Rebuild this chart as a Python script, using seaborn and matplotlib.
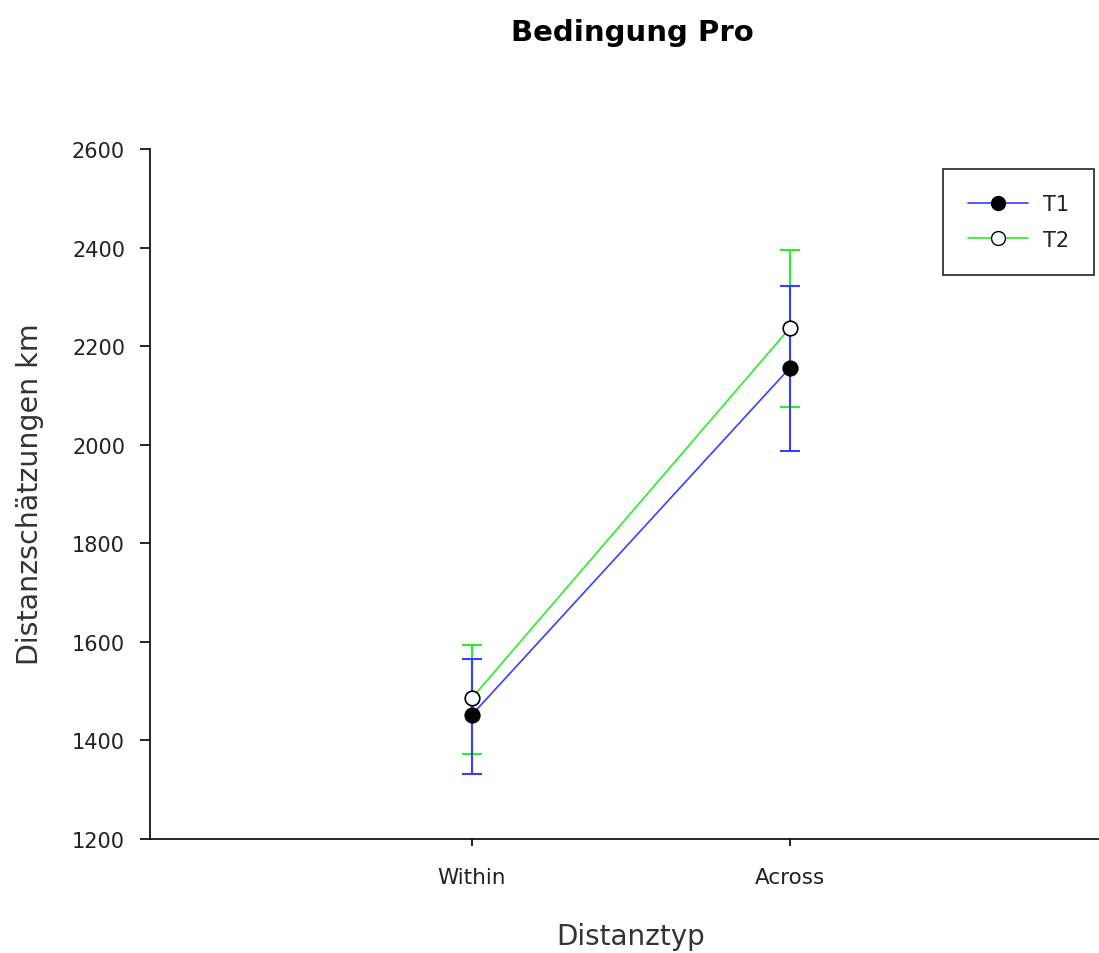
import numpy as np
import pandas as pd
import matplotlib
matplotlib.use("Agg")
import matplotlib.pyplot as plt
import seaborn as sns
from matplotlib.lines import Line2D

categories = ["Within", "Across"]
series = ["T1", "T2"]
t1_mean = [1452, 2156]
t1_upper = [1565, 2322]
t1_lower = [1332, 1987]
t2_mean = [1486, 2237]
t2_upper = [1594, 2395]
t2_lower = [1372, 2077]
yticks = [1200, 1400, 1600, 1800, 2000, 2200, 2400, 2600]

sns.set_theme(style="white")
plt.rcParams['font.family'] = ['DejaVu Sans']

df = pd.DataFrame({
    "Distanztyp": categories * 2,
    "value": t1_mean + t2_mean,
    "Zeit": ["T1"] * 2 + ["T2"] * 2,
})

colors = {"T1": "#3c3cff", "T2": "#2aee2a"}

fig = plt.figure(figsize=(10.99, 9.54), dpi=100)
ax = fig.add_axes([150/1099, (954-840)/954, 949/1099, 690/954])

sns.lineplot(data=df, x="Distanztyp", y="value", hue="Zeit", palette=colors,
             ax=ax, legend=False, linewidth=1.2, sort=False)

xpos = np.arange(len(categories))
for name, m, lo, hi in [("T2", t2_mean, t2_lower, t2_upper),
                        ("T1", t1_mean, t1_lower, t1_upper)]:
    m = np.array(m); lo = np.array(lo); hi = np.array(hi)
    ax.errorbar(xpos, m, yerr=[m - lo, hi - m], fmt="none", ecolor=colors[name],
                elinewidth=1.5, capsize=7.5, capthick=1.5, zorder=3)
for name, m, face in [("T2", t2_mean, "white"), ("T1", t1_mean, "black")]:
    ax.plot(xpos, m, linestyle="none", marker="o", markersize=10.5,
            markerfacecolor=face, markeredgecolor="black", markeredgewidth=1.2, zorder=4)

handles = [Line2D([], [], color=colors["T1"], lw=1.2, marker="o", markersize=10,
                  markerfacecolor="black", markeredgecolor="black"),
           Line2D([], [], color=colors["T2"], lw=1.2, marker="o", markersize=10,
                  markerfacecolor="white", markeredgecolor="black")]
leg = ax.legend(handles, series, loc="upper left", frameon=True, fancybox=False,
                fontsize=15, handlelength=2.9, borderpad=1.2, labelspacing=0.75,
                handletextpad=0.7, borderaxespad=0.0,
                bbox_to_anchor=(943/1099, 1 - 170/954), bbox_transform=fig.transFigure)
leg.get_frame().set_edgecolor("black")
leg.get_frame().set_linewidth(1.3)
for t in leg.get_texts():
    t.set_color("#222222")

ax.set_ylim(1200, 2600)
ax.set_yticks(yticks)
ax.set_xlim(-1.0126, 1.972)
ax.set_xticks(xpos)
ax.set_xticklabels(categories)
for s in ["top", "right"]:
    ax.spines[s].set_visible(False)
for s in ["left", "bottom"]:
    ax.spines[s].set_color("black")
    ax.spines[s].set_linewidth(1.2)
ax.tick_params(axis="y", direction="out", length=7, width=1.2, colors="black",
               labelcolor="#222222", labelsize=15, left=True, pad=11)
ax.tick_params(axis="x", direction="out", length=5, width=1.2, colors="black",
               labelcolor="#222222", labelsize=15.5, bottom=True, pad=15)
ax.set_xlabel("")
ax.set_ylabel("")
ax.grid(False)

fig.text(632/1099, 1 - 33/954, "Bedingung Pro", ha="center", va="center",
         fontsize=21, fontweight="bold", color="black")
fig.text(631/1099, 1 - 937/954, "Distanztyp", ha="center", va="center",
         fontsize=20, color="#333333")
fig.text(30/1099, 1 - 494/954, "Distanzschätzungen km", ha="center", va="center",
         rotation=90, fontsize=20.5, color="#333333")

fig.savefig("out.png", dpi=100)
